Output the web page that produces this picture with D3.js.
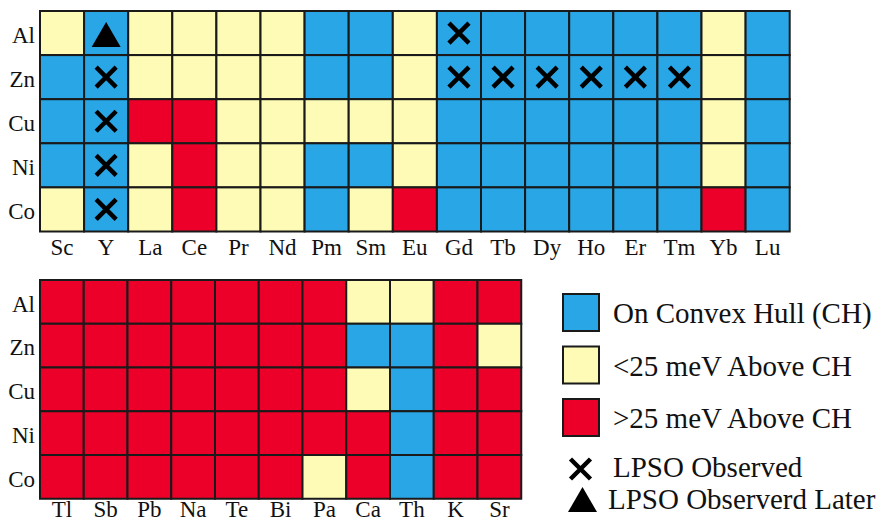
<!DOCTYPE html>
<html>
<head>
<meta charset="utf-8">
<script src="https://cdn.jsdelivr.net/npm/d3@7"></script>
<style>
body { margin: 0; background: #fff; }
svg { display: block; }
.axis text { font-family: "Liberation Serif", "DejaVu Serif", serif; font-size: 23px; fill: #111; }
.legend text { font-family: "Liberation Serif", "DejaVu Serif", serif; font-size: 29px; fill: #111; }
</style>
</head>
<body>
<div id="chart"></div>
<script>
// rows (host metal) and columns (solute) of the two panels
var rows = ["Al", "Zn", "Cu", "Ni", "Co"];
var topCols = ["Sc", "Y", "La", "Ce", "Pr", "Nd", "Pm", "Sm", "Eu", "Gd", "Tb", "Dy", "Ho", "Er", "Tm", "Yb", "Lu"];
var bottomCols = ["Tl", "Sb", "Pb", "Na", "Te", "Bi", "Pa", "Ca", "Th", "K", "Sr"];

// B = on convex hull, Y = <25 meV above, R = >25 meV above
var topStatus = [
	"YBYYYYBBYBBBBBBYB",
	"BBYYYYBBYBBBBBBYB",
	"BBRRYYYYYBBBBBBYB",
	"BBYRYYBBYBBBBBBYB",
	"YBYRYYBYRBBBBBBRB"
];
var bottomStatus = [
	"RRRRRRRYYRR",
	"RRRRRRRBBRY",
	"RRRRRRRYBRR",
	"RRRRRRRRBRR",
	"RRRRRRYRBRR"
];

// LPSO markers, "row-col"
var observed = ["Zn-Y", "Cu-Y", "Ni-Y", "Co-Y", "Al-Gd", "Zn-Gd", "Zn-Tb", "Zn-Dy", "Zn-Ho", "Zn-Er", "Zn-Tm"];
var observedLater = ["Al-Y"];

var legendLabels = ["On Convex Hull (CH)", "<25 meV Above CH", ">25 meV Above CH"];
var legendKeys = ["B", "Y", "R"];

var colors = { B: "#29a6e6", Y: "#fdfbb6", R: "#ec0029" };

var svg = d3.select("#chart").append("svg")
	.attr("width", 880)
	.attr("height", 522);

function drawPanel(cols, status, x0, y0, cell, pad) {
	var x = d3.scaleBand().domain(cols).range([x0, x0 + cols.length * cell]);
	var y = d3.scaleBand().domain(rows).range([y0, y0 + rows.length * cell]);
	var g = svg.append("g");

	var cells = [];
	rows.forEach(function (r, i) {
		cols.forEach(function (c, j) {
			cells.push({ row: r, col: c, s: status[i][j] });
		});
	});

	g.selectAll("rect.cell")
		.data(cells)
		.enter()
		.append("rect")
		.attr("class", "cell")
		.attr("x", function (d) { return x(d.col); })
		.attr("y", function (d) { return y(d.row); })
		.attr("width", x.bandwidth())
		.attr("height", y.bandwidth())
		.attr("fill", function (d) { return colors[d.s]; })
		.attr("stroke", "#1a1a1a")
		.attr("stroke-width", 2);

	var cross = cells.filter(function (d) { return observed.indexOf(d.row + "-" + d.col) >= 0; });
	g.selectAll("path.cross")
		.data(cross)
		.enter()
		.append("path")
		.attr("class", "cross")
		.attr("transform", function (d) {
			return "translate(" + (x(d.col) + x.bandwidth() / 2) + "," + (y(d.row) + y.bandwidth() / 2) + ")";
		})
		.attr("d", "M-10,-10L10,10M10,-10L-10,10")
		.attr("stroke", "#000")
		.attr("stroke-width", 4.5)
		.attr("fill", "none");

	var tri = cells.filter(function (d) { return observedLater.indexOf(d.row + "-" + d.col) >= 0; });
	g.selectAll("path.tri")
		.data(tri)
		.enter()
		.append("path")
		.attr("class", "tri")
		.attr("transform", function (d) {
			return "translate(" + (x(d.col) + x.bandwidth() / 2) + "," + (y(d.row) + y.bandwidth() / 2 + 2) + ")";
		})
		.attr("d", "M0,-13L14.5,12L-14.5,12Z")
		.attr("fill", "#000");

	// labels
	var xa = g.append("g")
		.attr("class", "axis")
		.attr("transform", "translate(0," + (y0 + rows.length * cell) + ")")
		.call(d3.axisBottom(x).tickSize(0).tickPadding(pad));
	xa.select(".domain").remove();

	var ya = g.append("g")
		.attr("class", "axis")
		.attr("transform", "translate(" + x0 + ",0)")
		.call(d3.axisLeft(y).tickSize(0).tickPadding(5));
	ya.select(".domain").remove();
	ya.selectAll("text").attr("dy", "0.42em");
}

drawPanel(topCols, topStatus, 40, 11, 44.1, 7);
drawPanel(bottomCols, bottomStatus, 40, 280, 43.75, 2);

// legend
var ly = d3.scaleLinear().domain([0, 1]).range([294, 346.5]);
var leg = svg.append("g").attr("class", "legend");

leg.selectAll("rect")
	.data(legendKeys)
	.enter()
	.append("rect")
	.attr("x", 563)
	.attr("y", function (d, i) { return ly(i); })
	.attr("width", 36)
	.attr("height", 37)
	.attr("fill", function (d) { return colors[d]; })
	.attr("stroke", "#1a1a1a")
	.attr("stroke-width", 2);

leg.selectAll("text.key")
	.data(legendLabels)
	.enter()
	.append("text")
	.attr("class", "key")
	.attr("x", 613)
	.attr("y", function (d, i) { return ly(i) + 29; })
	.text(function (d) { return d; });

leg.append("path")
	.attr("transform", "translate(580.5,469)")
	.attr("d", "M-10,-10L10,10M10,-10L-10,10")
	.attr("stroke", "#000")
	.attr("stroke-width", 4.5);
leg.append("text")
	.attr("x", 613)
	.attr("y", 477)
	.text("LPSO Observed");

leg.append("path")
	.attr("transform", "translate(582.5,500)")
	.attr("d", "M0,-13L14.5,12L-14.5,12Z")
	.attr("fill", "#000");
leg.append("text")
	.attr("x", 608)
	.attr("y", 509)
	.text("LPSO Observerd Later");
</script>
</body>
</html>
